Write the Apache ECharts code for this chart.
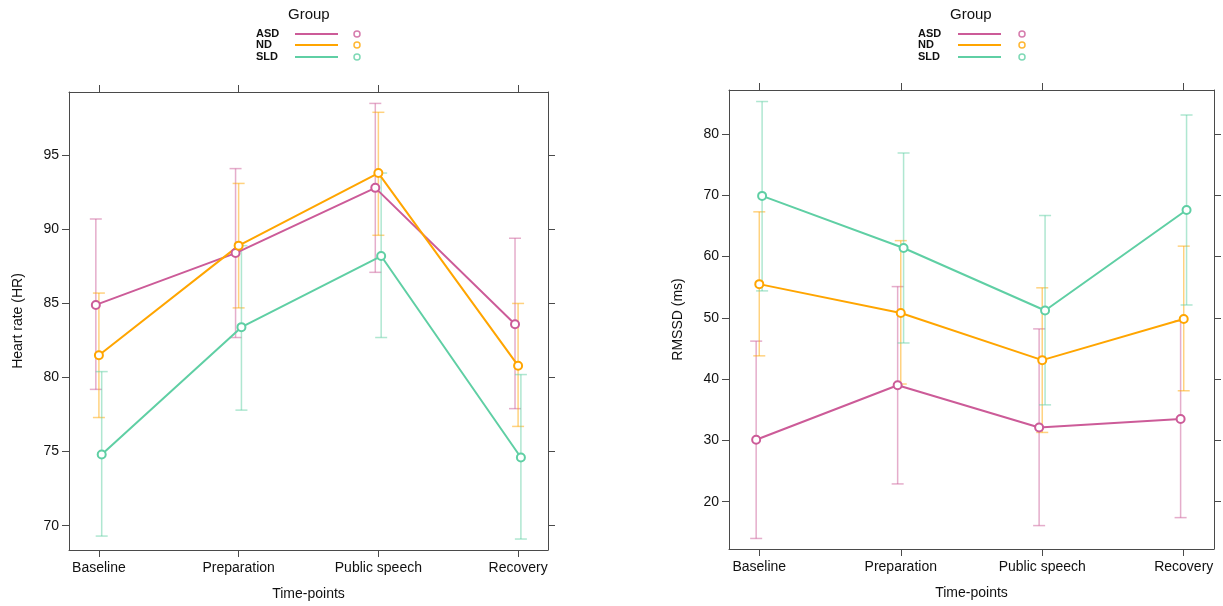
<!DOCTYPE html>
<html>
<head>
<meta charset="utf-8">
<title>Heart rate and RMSSD by group</title>
<script src="https://cdn.jsdelivr.net/npm/echarts@6/dist/echarts.min.js"></script>
<style>
  html, body { margin: 0; padding: 0; background: #ffffff; }
  #chart { width: 1223px; height: 606px; }
</style>
</head>
<body>
<div id="chart"></div>
<script>
// ---- data ----
const timePoints = ['Baseline', 'Preparation', 'Public speech', 'Recovery'];
const groups = ['ASD', 'ND', 'SLD'];

// Heart rate (HR): group means with lower / upper error limits
const hrMeanASD = [84.9, 88.4, 92.8, 83.6];
const hrLowASD  = [79.2, 82.7, 87.1, 77.9];
const hrHighASD = [90.7, 94.1, 98.5, 89.4];
const hrMeanND  = [81.5, 88.9, 93.8, 80.8];
const hrLowND   = [77.3, 84.7, 89.6, 76.7];
const hrHighND  = [85.7, 93.1, 97.9, 85.0];
const hrMeanSLD = [74.8, 83.4, 88.2, 74.6];
const hrLowSLD  = [69.3, 77.8, 82.7, 69.1];
const hrHighSLD = [80.4, 88.9, 93.8, 80.2];

// RMSSD (ms): group means with lower / upper error limits
const rmMeanASD = [30.1, 39.0, 32.1, 33.5];
const rmLowASD  = [14.0, 22.9, 16.1, 17.4];
const rmHighASD = [46.2, 55.1, 48.2, 49.5];
const rmMeanND  = [55.5, 50.8, 43.1, 49.8];
const rmLowND   = [43.8, 39.2, 31.3, 38.1];
const rmHighND  = [67.3, 62.6, 54.9, 61.7];
const rmMeanSLD = [69.9, 61.4, 51.2, 67.6];
const rmLowSLD  = [54.4, 45.9, 35.8, 52.1];
const rmHighSLD = [85.3, 76.9, 66.7, 83.1];

// tick labels
const hrTicks = [70, 75, 80, 85, 90, 95];
const rmTicks = [20, 30, 40, 50, 60, 70, 80];

// ---- styling ----
const colors = { ASD: '#cc5b98', ND: '#ffa500', SLD: '#5fcfa4' };
const dodge = { ASD: -0.022, ND: 0, SLD: 0.02 };   // small horizontal offset per group
const FONT = '"Liberation Sans", Arial, Helvetica, sans-serif';
const AXIS_COLOR = '#4a4a4a';

const hrData = {
  ASD: [hrMeanASD, hrLowASD, hrHighASD],
  ND:  [hrMeanND,  hrLowND,  hrHighND],
  SLD: [hrMeanSLD, hrLowSLD, hrHighSLD]
};
const rmData = {
  ASD: [rmMeanASD, rmLowASD, rmHighASD],
  ND:  [rmMeanND,  rmLowND,  rmHighND],
  SLD: [rmMeanSLD, rmLowSLD, rmHighSLD]
};

const panels = [
  { grid: { left: 69, top: 92, width: 479, height: 458 },
    yMin: 68.36, yMax: 99.27, ticks: hrTicks, yName: 'Heart rate (HR)', data: hrData },
  { grid: { left: 729, top: 90, width: 485, height: 459 },
    yMin: 12.28, yMax: 87.18, ticks: rmTicks, yName: 'RMSSD (ms)', data: rmData }
];

const X_MIN = -0.214, X_MAX = 3.214;
const tickIdx = timePoints.map((_, i) => i);

const grid = [], xAxis = [], yAxis = [], series = [];

panels.forEach((p, pi) => {
  grid.push(Object.assign({ containLabel: false }, p.grid));

  const lineStyle = { color: AXIS_COLOR, width: 1 };
  const tickStyle = { show: true, length: 7, inside: false, lineStyle: { color: AXIS_COLOR, width: 1 } };

  // bottom x axis with labels
  xAxis.push({
    type: 'value', gridIndex: pi, position: 'bottom', min: X_MIN, max: X_MAX,
    name: 'Time-points', nameLocation: 'middle', nameGap: 37,
    nameTextStyle: { fontFamily: FONT, fontSize: 14, color: '#111' },
    axisLine: { show: true, onZero: false, lineStyle },
    axisTick: Object.assign({ customValues: tickIdx }, tickStyle),
    axisLabel: { customValues: tickIdx, margin: 11, fontFamily: FONT, fontSize: 14, color: '#111',
                 formatter: v => timePoints[Math.round(v)] || '' },
    splitLine: { show: false }
  });
  // top x axis: ticks only
  xAxis.push({
    type: 'value', gridIndex: pi, position: 'top', min: X_MIN, max: X_MAX,
    axisLine: { show: true, onZero: false, lineStyle },
    axisTick: Object.assign({ customValues: tickIdx }, tickStyle),
    axisLabel: { show: false },
    splitLine: { show: false }
  });
  // left y axis with labels
  yAxis.push({
    type: 'value', gridIndex: pi, position: 'left', min: p.yMin, max: p.yMax,
    name: p.yName, nameLocation: 'middle', nameGap: 44, nameRotate: 90,
    nameTextStyle: { fontFamily: FONT, fontSize: 14, color: '#111' },
    axisLine: { show: true, onZero: false, lineStyle },
    axisTick: Object.assign({ customValues: p.ticks }, tickStyle),
    axisLabel: { customValues: p.ticks, margin: 10, fontFamily: FONT, fontSize: 14, color: '#111' },
    splitLine: { show: false }
  });
  // right y axis: ticks only
  yAxis.push({
    type: 'value', gridIndex: pi, position: 'right', min: p.yMin, max: p.yMax,
    axisLine: { show: true, onZero: false, lineStyle },
    axisTick: Object.assign({ customValues: p.ticks }, tickStyle),
    axisLabel: { show: false },
    splitLine: { show: false }
  });

  const xi = pi * 2, yi = pi * 2;

  groups.forEach(g => {
    const [mean, low, high] = p.data[g];
    const col = colors[g];

    // error bars
    series.push({
      type: 'custom', name: g + '-err', xAxisIndex: xi, yAxisIndex: yi, z: 2,
      data: timePoints.map((_, i) => [i + dodge[g], low[i], high[i]]),
      encode: { x: 0, y: [1, 2] },
      renderItem: (params, api) => {
        const x = api.value(0);
        const lo = api.coord([x, api.value(1)]);
        const hi = api.coord([x, api.value(2)]);
        const cap = 6;
        const style = { stroke: col, lineWidth: 1.5, opacity: 0.5 };
        return {
          type: 'group',
          children: [
            { type: 'line', shape: { x1: lo[0], y1: lo[1], x2: hi[0], y2: hi[1] }, style },
            { type: 'line', shape: { x1: lo[0] - cap, y1: lo[1], x2: lo[0] + cap, y2: lo[1] }, style },
            { type: 'line', shape: { x1: hi[0] - cap, y1: hi[1], x2: hi[0] + cap, y2: hi[1] }, style }
          ]
        };
      },
      silent: true
    });

    // mean line with hollow points
    series.push({
      type: 'line', name: g, xAxisIndex: xi, yAxisIndex: yi, z: 3,
      data: timePoints.map((_, i) => [i + dodge[g], mean[i]]),
      symbol: 'emptyCircle', symbolSize: 8, showSymbol: true,
      lineStyle: { color: col, width: 2 },
      itemStyle: { color: col, borderColor: col, borderWidth: 1.8 },
      emphasis: { disabled: true },
      animation: false,
      silent: true
    });
  });
});

// group keys above each panel
function legendGraphic(cx, textX, lineX1, lineX2, circleX) {
  const els = [{
    type: 'text', left: cx - 20, top: 7,
    style: { text: 'Group', font: '15px ' + FONT, fill: '#111' }
  }];
  const rows = [34, 45, 57];
  groups.forEach((g, i) => {
    const y = rows[i];
    els.push({ type: 'text', x: textX, y: y, style: { text: g, font: 'bold 11px ' + FONT, fill: '#111', verticalAlign: 'middle' } });
    els.push({ type: 'line', shape: { x1: lineX1, y1: y, x2: lineX2, y2: y }, style: { stroke: colors[g], lineWidth: 2 } });
    els.push({ type: 'circle', shape: { cx: circleX, cy: y, r: 3 }, style: { fill: 'none', stroke: colors[g], lineWidth: 1.5, opacity: 0.8 } });
  });
  return els;
}

const chart = echarts.init(document.getElementById('chart'), null, { renderer: 'canvas' });
chart.setOption({
  backgroundColor: '#ffffff',
  animation: false,
  grid, xAxis, yAxis, series,
  graphic: legendGraphic(308, 256, 295, 338, 357).concat(legendGraphic(970, 918, 958, 1001, 1022))
});
</script>
</body>
</html>
